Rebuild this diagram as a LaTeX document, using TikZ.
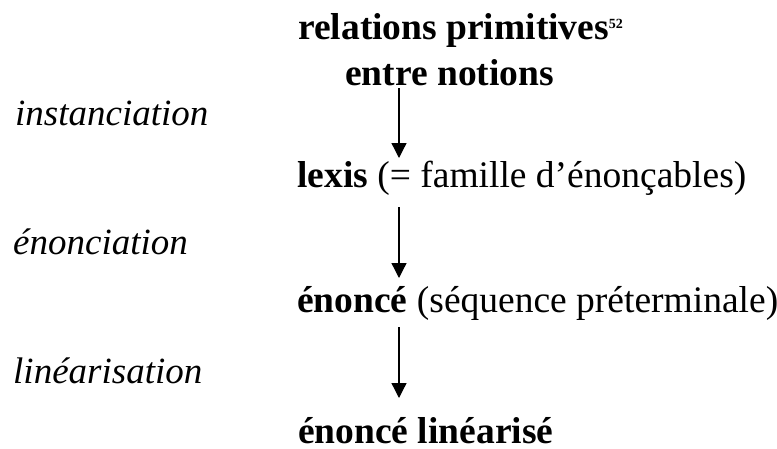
\documentclass[tikz,border=0pt]{standalone}
\usepackage{fontspec}
\setmainfont{Liberation Serif}
\usetikzlibrary{arrows.meta}
\begin{document}
\begin{tikzpicture}[x=1pt,y=-1pt,
  lbl/.style={anchor=base west,inner sep=0pt,font=\fontsize{37.5}{45}\selectfont},
  main/.style={lbl,font=\fontsize{37.5}{45}\selectfont\bfseries},
  side/.style={lbl,font=\fontsize{37}{45}\selectfont\itshape},
  arr/.style={line width=1.3pt,-{Triangle[length=15pt,width=15pt]}}]
\useasboundingbox (0,0) rectangle (777,448);
\node[main] (rel) at (298,39) {relations primitives\raisebox{11pt}{\fontsize{14}{14}\selectfont 52}};
\node[main] (entre) at (345,85) {entre notions};
\node[side] (inst) at (15,125) {instanciation};
\node[lbl] (lexis) at (297,187) {\textbf{lexis} (= famille d’énonçables)};
\node[side] (enonc) at (13,254) {énonciation};
\node[lbl] (enonce) at (297,312) {\textbf{énoncé} (séquence préterminale)};
\node[side] (linea) at (13,383) {linéarisation};
\node[main,text depth=0pt] (final) at (298,443) {énoncé linéarisé};
\coordinate (a1s) at (399,88);
\coordinate (a1e) at (399,158);
\coordinate (a2s) at (399,207);
\coordinate (a2e) at (399,278);
\coordinate (a3s) at (399,327);
\coordinate (a3e) at (399,398);
\draw[arr] (a1s) -- (a1e);
\draw[arr] (a2s) -- (a2e);
\draw[arr] (a3s) -- (a3e);
\end{tikzpicture}
\end{document}
